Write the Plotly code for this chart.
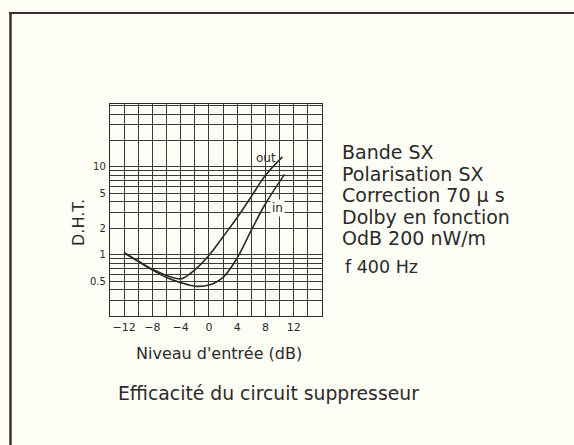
import plotly.graph_objects as go

# Data
x_out = [-12, -10, -8, -6, -4, -3, -2, 0, 2, 4, 6, 8, 10.4]
y_out = [1.05, 0.84, 0.68, 0.58, 0.53, 0.58, 0.67, 0.98, 1.6, 2.65, 4.6, 8.0, 13.0]
x_in = [-12, -10, -8, -6, -4, -2, 0, 2, 4, 6, 8, 10.7]
y_in = [1.05, 0.84, 0.67, 0.55, 0.48, 0.437, 0.45, 0.55, 0.92, 1.9, 3.8, 8.2]

x_ticks = [-12, -8, -4, 0, 4, 8, 12]
x_tick_text = ["\u221212", "\u22128", "\u22124", "0", "4", "8", "12"]
x_minor = [-14, -10, -6, -2, 2, 6, 10, 14, 16]
y_ticks = [0.5, 1, 2, 5, 10]
y_tick_text = ["0.5", "1", "2", "5", "10"]
y_minor = [0.2, 0.3, 0.4, 0.6, 0.7, 0.8, 0.9, 3, 4, 6, 7, 8, 9, 20, 30, 40, 50]

info_lines = ["Bande SX", "Polarisation SX", "Correction 70 \u03bc s",
              "Dolby en fonction", "OdB 200 nW/m", "f 400 Hz"]
caption = "Efficacité du circuit suppresseur"

INK = "#2a2a2a"
BG = "#fffef6"
FONT = "DejaVu Sans, Liberation Sans, Arial, sans-serif"

fig = go.Figure()
fig.add_trace(go.Scatter(x=x_out, y=y_out, mode="lines",
                         line=dict(color=INK, width=1.6, shape="spline", smoothing=1.0),
                         showlegend=False, hoverinfo="skip"))
fig.add_trace(go.Scatter(x=x_in, y=y_in, mode="lines",
                         line=dict(color=INK, width=1.6, shape="spline", smoothing=1.0),
                         showlegend=False, hoverinfo="skip"))

L, R, T, B = 110, 252, 104, 129
W, H = 574, 445
PW, PH = W - L - R, H - T - B

def px(x):
    return (x - L) / PW

def py(y):
    return (H - B - y) / PH

GRID = "#3a3a3a"
fig.update_layout(
    width=W, height=H,
    margin=dict(l=L, r=R, t=T, b=B, pad=0),
    paper_bgcolor=BG, plot_bgcolor=BG,
    font=dict(family=FONT, color=INK),
    xaxis=dict(range=[-14, 16], tickmode="array", tickvals=x_ticks, ticktext=x_tick_text,
               showgrid=True, gridcolor=GRID, gridwidth=0.8,
               minor=dict(tickmode="array", tickvals=x_minor,
                          showgrid=True, gridcolor=GRID, gridwidth=0.8),
               showline=True, linecolor=INK, linewidth=1.3, mirror=True,
               ticks="", tickfont=dict(size=11, color=INK), zeroline=False,
               ticklabelstandoff=1),
    yaxis=dict(type="log", range=[-0.699, 1.716], tickmode="array", tickvals=y_ticks,
               ticktext=y_tick_text, showgrid=True, gridcolor=GRID, gridwidth=0.8,
               minor=dict(tickmode="array", tickvals=y_minor, showgrid=True,
                          gridcolor=GRID, gridwidth=0.8),
               showline=True, linecolor=INK, linewidth=1.3, mirror=True,
               ticks="", tickfont=dict(size=10, color=INK), zeroline=False,
               ticklabelstandoff=1),
)

annotations = [
    dict(x=px(266), y=py(158), text="out", font=dict(size=12, color=INK)),
    dict(x=px(277), y=py(208), text="in", font=dict(size=12, color=INK), bgcolor=BG),
    dict(x=px(78), y=py(223), text="D.H.T.", textangle=-90, font=dict(size=16, color=INK)),
    dict(x=px(219), y=py(353), text="Niveau d'entrée (dB)", font=dict(size=16, color=INK)),
    dict(x=px(268), y=py(393), text=caption, font=dict(size=18.8, color=INK)),
]
for a in annotations:
    a["xanchor"] = "center"
line_y = [152, 173.5, 195, 216.5, 238, 267]
for txt, yy in zip(info_lines, line_y):
    is_f = txt.startswith("f")
    annotations.append(dict(x=px(343 if is_f else 340), y=py(yy), text=txt, xanchor="left",
                            font=dict(size=17.5 if is_f else 19, color=INK)))
for a in annotations:
    a["xref"] = "paper"
    a["yref"] = "paper"
    a["yanchor"] = "middle"
    a["showarrow"] = False
fig.update_layout(annotations=annotations)

fig.update_layout(shapes=[
    dict(type="line", xref="paper", yref="paper", x0=px(10.5), x1=px(10.5), y0=py(12), y1=py(450),
         line=dict(color="#3a3228", width=2.5)),
    dict(type="line", xref="paper", yref="paper", x0=px(9), x1=px(580), y0=py(13), y1=py(13),
         line=dict(color="#3a3228", width=2.2)),
])

fig.write_html("out.html", config={"displayModeBar": False},
               post_script="document.body.style.margin='0';document.body.style.overflow='hidden';")
